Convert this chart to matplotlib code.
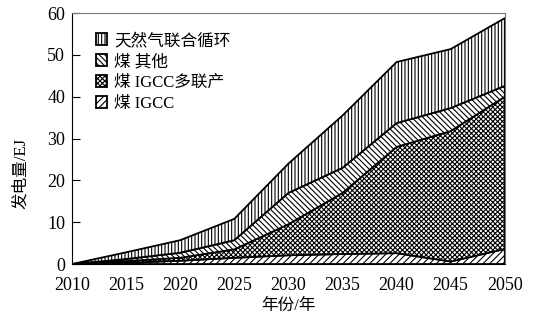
import numpy as np
import matplotlib.pyplot as plt

plt.rcParams["font.family"] = ["Liberation Serif", "Noto Sans CJK SC"]
plt.rcParams["hatch.linewidth"] = 0.8

# data (EJ)
years = [2010, 2015, 2020, 2025, 2030, 2035, 2040, 2045, 2050]
coal_igcc = [0, 0.3, 0.8, 1.5, 2.1, 2.4, 2.6, 0.6, 3.6]
coal_igcc_poly = [0, 0.4, 0.7, 2.0, 7.4, 14.6, 25.4, 31.2, 36.4]
coal_other = [0, 0.5, 1.2, 2.2, 7.5, 6.0, 5.7, 5.5, 2.6]
ngcc = [0, 1.6, 3.0, 5.1, 7.0, 12.5, 14.6, 14.1, 16.2]

labels = ["煤 IGCC", "煤 IGCC多联产", "煤 其他", "天然气联合循环"]
hatches = ["/////", "xxxxxxx", "\\\\\\\\\\\\", "|||||"]

fig = plt.figure(figsize=(5.37, 3.28), dpi=100)
ax = fig.add_axes([0.134, 0.195, 0.806, 0.765])

series = [coal_igcc, coal_igcc_poly, coal_other, ngcc]
base = np.zeros(len(years))
handles = []
for vals, lab, h in zip(series, labels, hatches):
    top = base + np.array(vals)
    p = ax.fill_between(years, base, top, facecolor="white", edgecolor="black",
                        hatch=h, linewidth=1.3, label=lab)
    handles.append(p)
    base = top

ax.set_xlim(2010, 2050)
ax.set_ylim(0, 60)
ax.set_xticks(range(2010, 2051, 5))
ax.set_yticks(range(0, 61, 10))
ax.tick_params(axis="y", direction="in", length=6, labelsize=13, pad=5)
ax.tick_params(axis="x", length=0, labelsize=13, pad=9)

ax.set_xlabel("年份/年", fontsize=12)
ax.xaxis.set_label_coords(0.5, -0.135)
ax.set_ylabel("发电量/EJ", fontsize=12)
ax.yaxis.set_label_coords(-0.1, 0.36)

for s in ["top", "right"]:
    ax.spines[s].set_color("#777777")

ax.legend(handles[::-1], labels[::-1], loc="upper left", frameon=False,
          fontsize=12, handlelength=0.7, handleheight=0.7, handletextpad=0.4,
          labelspacing=0.3, bbox_to_anchor=(0.02, 0.98))

fig.savefig("out.png", dpi=100)
